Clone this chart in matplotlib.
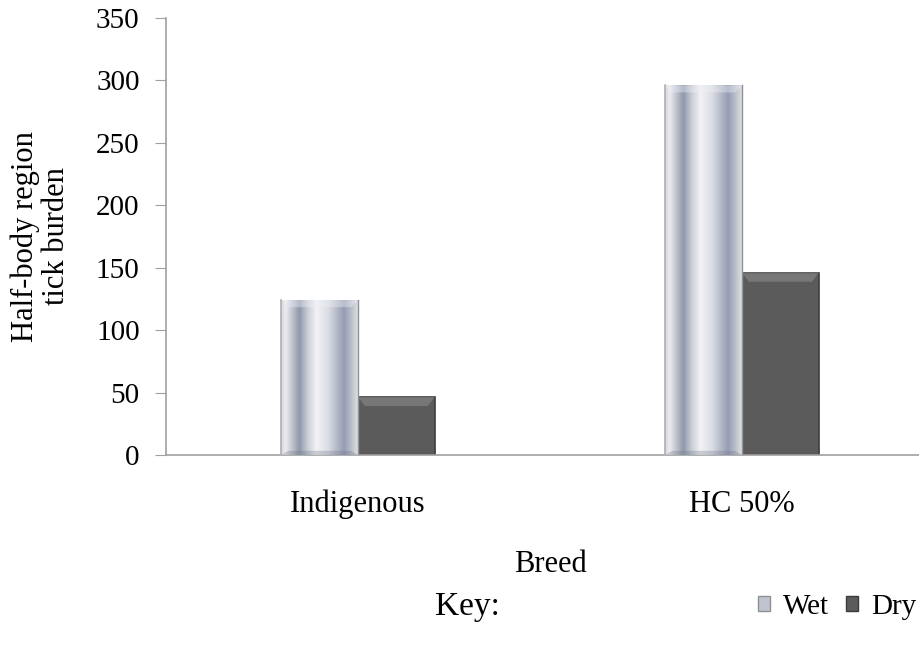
import numpy as np
import matplotlib.pyplot as plt
from matplotlib.colors import LinearSegmentedColormap
from matplotlib.patches import Polygon, Patch

plt.rcParams['font.family'] = ['Liberation Serif', 'DejaVu Serif']

breeds = ['Indigenous', 'HC 50%']
wet = [124, 296]
dry = [46.5, 146]

y_ticks = [0, 50, 100, 150, 200, 250, 300, 350]

# metallic look of the wet bars, left to right
silver = LinearSegmentedColormap.from_list('silver', [
    (0.00, '#d6d7dc'), (0.06, '#ececef'), (0.24, '#8f97aa'),
    (0.34, '#c6cad4'), (0.46, '#f3f3f5'), (0.62, '#d8dbe2'),
    (0.82, '#969db2'), (0.92, '#bcc0cb'), (1.00, '#dedfe3')])

fig = plt.figure(figsize=(9.19, 6.46), dpi=100)
ax = fig.add_axes([166 / 919, 1 - 455 / 646, 768 / 919, 437 / 646])

x = np.arange(len(breeds))
w = 0.2
bars_wet = ax.bar(x - w / 2, wet, w, color='#c8ccd6', edgecolor='none', zorder=2)
bars_dry = ax.bar(x + w / 2, dry, w, color='#5b5b5b', edgecolor='#3c3c3c',
                  linewidth=1.2, zorder=2)

ax.set_xlim(-0.5, 1.5)
ax.set_ylim(0, 350)
fig.canvas.draw()

# bevel size in data units (~7 px)
inv = ax.transData.inverted()
p0 = inv.transform((0, 0))
p1 = inv.transform((7, 7))
bx, by = p1[0] - p0[0], p1[1] - p0[1]

grad = np.linspace(0, 1, 256).reshape(1, -1)
for b in bars_wet:
    x0, y0 = b.get_x(), b.get_y()
    bw, bh = b.get_width(), b.get_height()
    im = ax.imshow(grad, cmap=silver, aspect='auto', extent=(x0, x0 + bw, y0, y0 + bh),
                   zorder=3, interpolation='bilinear')
    im.set_clip_path(b)
    top = Polygon([(x0, y0 + bh), (x0 + bw, y0 + bh), (x0 + bw - bx, y0 + bh - by),
                   (x0 + bx, y0 + bh - by)], closed=True, facecolor='#eef0f8',
                  alpha=0.4, edgecolor='none', zorder=4)
    ax.add_patch(top)
    bot = Polygon([(x0, y0), (x0 + bw, y0), (x0 + bw - bx, y0 + by * 0.6),
                   (x0 + bx, y0 + by * 0.6)], closed=True, facecolor='#6f7585',
                  alpha=0.3, edgecolor='none', zorder=4)
    ax.add_patch(bot)
    ax.plot([x0, x0], [y0, y0 + bh], color='#b0b0b4', lw=1.2, zorder=5)
    ax.plot([x0 + bw, x0 + bw], [y0, y0 + bh], color='#909197', lw=1.0, zorder=5)

for b in bars_dry:
    x0, y0 = b.get_x(), b.get_y()
    bw, bh = b.get_width(), b.get_height()
    top = Polygon([(x0, y0 + bh), (x0 + bw, y0 + bh), (x0 + bw - bx, y0 + bh - by * 1.3),
                   (x0 + bx, y0 + bh - by * 1.3)], closed=True, facecolor='#8a8a8a',
                  alpha=0.6, edgecolor='none', zorder=4)
    ax.add_patch(top)

ax.set_yticks(y_ticks)
ax.set_xticks(x)
ax.set_xticklabels(breeds)
ax.tick_params(axis='y', direction='out', length=8, color='#a0a0a0', labelsize=21, pad=11)
ax.tick_params(axis='x', length=0, labelsize=22, pad=25)

for s in ['top', 'right']:
    ax.spines[s].set_visible(False)
ax.spines['left'].set_color('#a0a0a0')
ax.spines['bottom'].set_color('#a0a0a0')
ax.spines['left'].set_linewidth(1.2)
ax.spines['bottom'].set_linewidth(1.2)

ax.set_ylabel('Half-body region\ntick burden', fontsize=22, linespacing=1.1, va='center')
ax.yaxis.set_label_coords((41 - 166) / 768, 0.5)
ax.set_xlabel('Breed', fontsize=22, va='center')
ax.xaxis.set_label_coords(0.5, (455 - 565) / 437)

fig.text(435 / 919, 1 - 607 / 646, 'Key:', fontsize=24, va='center', ha='left')
handles = [Patch(facecolor='#bfc3cd', edgecolor='#8f9096', label='Wet'),
           Patch(facecolor='#5b5b5b', edgecolor='#3c3c3c', label='Dry')]
fig.legend(handles=handles, loc='center right', bbox_to_anchor=(0.997, 1 - 607 / 646),
           ncol=2, frameon=False, fontsize=21, handlelength=0.4, handleheight=0.4,
           handletextpad=0.45, columnspacing=0.6, borderaxespad=0, borderpad=0)

fig.savefig('out.png', dpi=100)
